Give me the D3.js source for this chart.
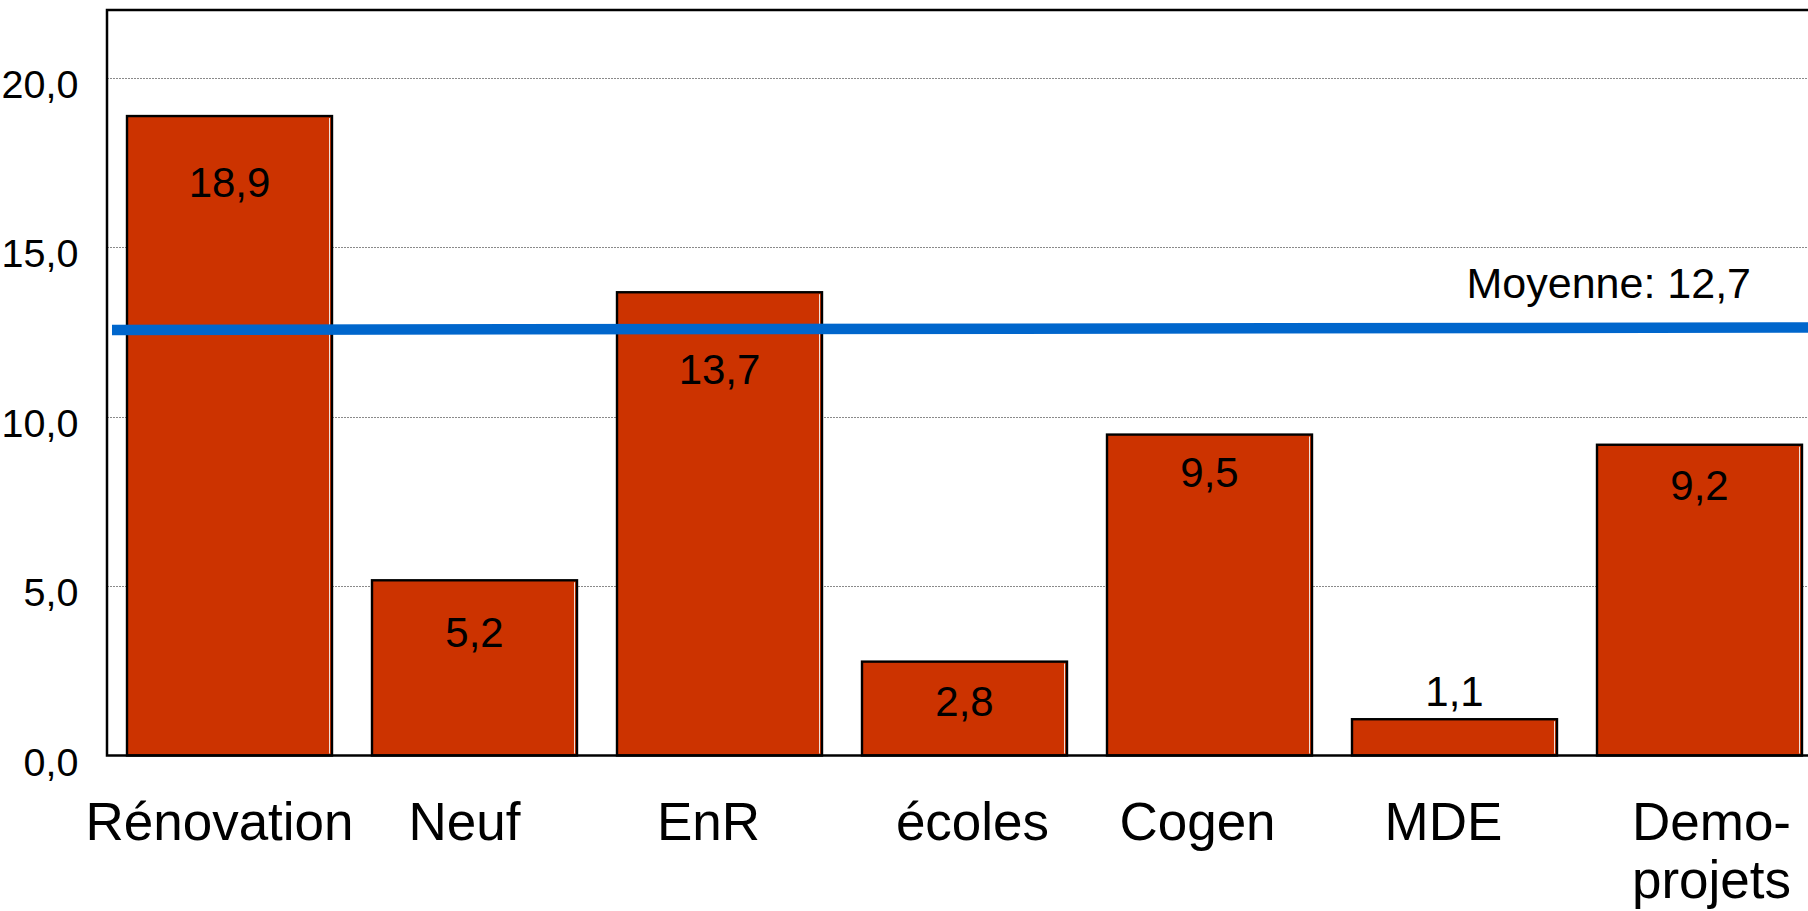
<!DOCTYPE html>
<html>
<head>
<meta charset="utf-8">
<script src="https://cdn.jsdelivr.net/npm/d3@7"></script>
<style>
  html, body { margin: 0; padding: 0; background: #fff; overflow: hidden; }
  svg { display: block; font-family: "Liberation Sans", Arial, sans-serif; }
</style>
</head>
<body>
<svg id="chart" width="1808" height="911"></svg>
<script>
// ---- data ----
const categories = ["Rénovation", "Neuf", "EnR", "écoles", "Cogen", "MDE", "Demo-projets"];
const categoryLines = [["Rénovation"], ["Neuf"], ["EnR"], ["écoles"], ["Cogen"], ["MDE"], ["Demo-", "projets"]];
const values = [18.9, 5.2, 13.7, 2.8, 9.5, 1.1, 9.2];
const yTicks = [0, 5, 10, 15, 20];
const meanLabel = "Moyenne: 12,7";
const meanLine = [12.56, 12.63];   // left / right end of the average line

// ---- layout (pixels) ----
const labelDy = [82, 68, 93, 55, 53, -12, 56];     // value label baseline below bar top
const catDx = [-10, -10, -11, 8, -12, -11, 12];    // category label offset from band centre

const svg = d3.select("#chart");
const plotLeft = 107, plotTop = 10, plotBottom = 755.5, plotRight = 1822;

const x = d3.scaleBand()
  .domain(categories)
  .range([plotLeft, plotRight])
  .paddingInner(38 / 245)
  .paddingOuter(19 / 245);

const y = d3.scaleLinear().domain([0, 22]).range([plotBottom, plotTop]);

const fmt = v => d3.format(".1f")(v).replace(".", ",");

// grid lines
svg.append("g")
  .selectAll("line")
  .data(yTicks.filter(t => t > 0))
  .join("line")
  .attr("x1", plotLeft).attr("x2", plotRight)
  .attr("y1", d => Math.round(y(d)) + 0.5).attr("y2", d => Math.round(y(d)) + 0.5)
  .attr("stroke", "#8a8a8a")
  .attr("stroke-width", 1)
  .attr("stroke-dasharray", "2,1");

// y axis labels
const yAxis = d3.axisLeft(y).tickValues(yTicks).tickSize(0).tickPadding(0).tickFormat(fmt);
const gy = svg.append("g").attr("transform", `translate(78.5,0)`).call(yAxis);
gy.select(".domain").remove();
gy.selectAll("text")
  .attr("font-family", "Liberation Sans, Arial, sans-serif")
  .attr("font-size", 39.5)
  .attr("fill", "#000")
  .attr("dy", null)
  .attr("y", 19.5);

// bars
const bars = svg.append("g");
bars.selectAll("rect")
  .data(values)
  .join("rect")
  .attr("x", (d, i) => x(categories[i]) + 1)
  .attr("width", x.bandwidth() - 2)
  .attr("y", d => y(d) + 1)
  .attr("height", d => plotBottom - y(d) - 1)
  .attr("fill", "#CC3300")
  .attr("stroke", "#000")
  .attr("stroke-width", 2.4);

// subtle inner highlight on right edge
bars.selectAll("line.hl")
  .data(values)
  .join("line")
  .attr("class", "hl")
  .attr("x1", (d, i) => x(categories[i]) + x.bandwidth() - 3.5)
  .attr("x2", (d, i) => x(categories[i]) + x.bandwidth() - 3.5)
  .attr("y1", d => y(d) + 3)
  .attr("y2", plotBottom - 2)
  .attr("stroke", "#f3e0d8")
  .attr("stroke-width", 1);

// plot frame
svg.append("rect")
  .attr("x", plotLeft).attr("y", plotTop)
  .attr("width", plotRight - plotLeft).attr("height", plotBottom - plotTop)
  .attr("fill", "none")
  .attr("stroke", "#000")
  .attr("stroke-width", 2.5);

// average line
svg.append("line")
  .attr("x1", plotLeft + 5).attr("x2", plotRight)
  .attr("y1", y(meanLine[0])).attr("y2", y(meanLine[1]))
  .attr("stroke", "#0066CC")
  .attr("stroke-width", 10.5);

svg.append("text")
  .attr("x", 1751).attr("y", 298)
  .attr("text-anchor", "end")
  .attr("font-size", 43)
  .attr("fill", "#000")
  .text(meanLabel);

// value labels
svg.append("g")
  .selectAll("text")
  .data(values)
  .join("text")
  .attr("x", (d, i) => x(categories[i]) + x.bandwidth() / 2)
  .attr("y", (d, i) => y(d) + labelDy[i])
  .attr("text-anchor", "middle")
  .attr("font-size", 42)
  .attr("fill", "#000")
  .text(d => fmt(d));

// category labels
const cat = svg.append("g")
  .selectAll("text")
  .data(categories)
  .join("text")
  .attr("x", (d, i) => x(d) + x.bandwidth() / 2 + catDx[i])
  .attr("y", 840)
  .attr("text-anchor", "middle")
  .attr("font-size", 53)
  .attr("fill", "#000");
cat.selectAll("tspan")
  .data((d, i) => categoryLines[i].map(t => ({ t, i })))
  .join("tspan")
  .attr("x", d => x(categories[d.i]) + x.bandwidth() / 2 + catDx[d.i])
  .attr("dy", (d, j) => j === 0 ? 0 : 58)
  .text(d => d.t);
</script>
</body>
</html>
